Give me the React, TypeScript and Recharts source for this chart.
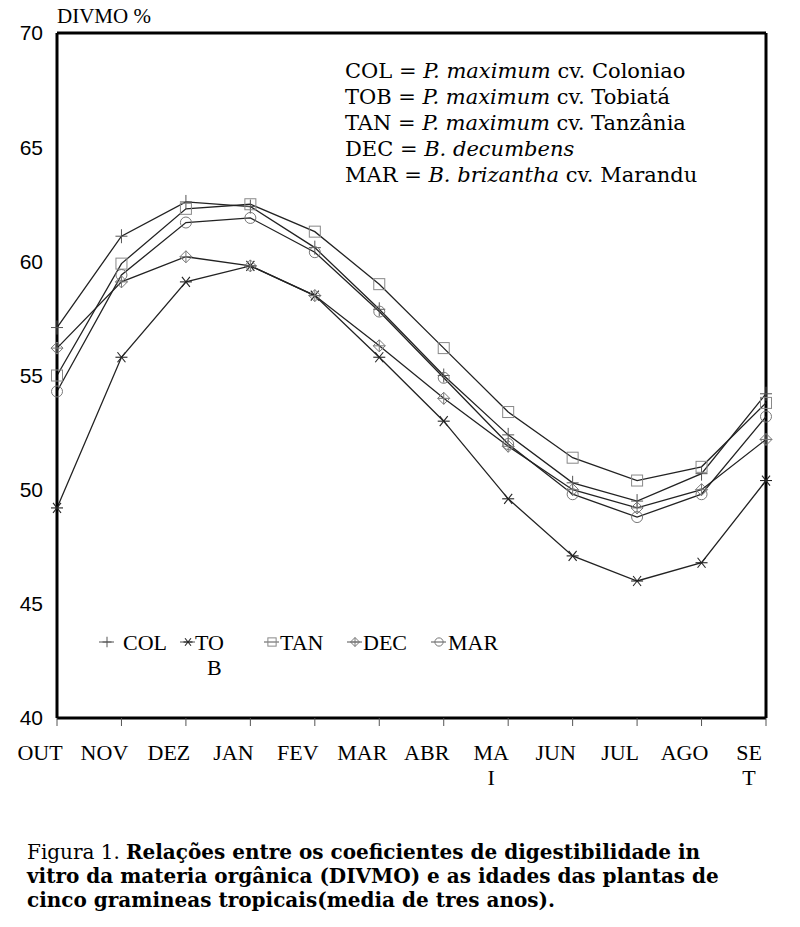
import React from 'react';
import { LineChart, Line, XAxis, YAxis, ReferenceLine } from 'recharts';

// months on the x axis (MAI and SET wrap in the original figure)
const months = ['OUT', 'NOV', 'DEZ', 'JAN', 'FEV', 'MAR', 'ABR', 'MAI', 'JUN', 'JUL', 'AGO', 'SET'];
const monthTickLines = [
  ['OUT'], ['NOV'], ['DEZ'], ['JAN'], ['FEV'], ['MAR'],
  ['ABR'], ['MA', 'I'], ['JUN'], ['JUL'], ['AGO'], ['SE', 'T'],
];
const yTicks = [40, 45, 50, 55, 60, 65, 70];

// DIVMO %
const colValues = [57.1, 61.1, 62.6, 62.4, 60.6, 57.9, 55.0, 52.4, 50.3, 49.5, 50.7, 54.2];
const tobValues = [49.2, 55.8, 59.1, 59.8, 58.5, 55.8, 53.0, 49.6, 47.1, 46.0, 46.8, 50.4];
const tanValues = [55.0, 59.9, 62.3, 62.5, 61.3, 59.0, 56.2, 53.4, 51.4, 50.4, 51.0, 53.8];
const decValues = [56.2, 59.1, 60.2, 59.8, 58.5, 56.3, 54.0, 51.9, 50.0, 49.2, 50.0, 52.2];
const marValues = [54.3, 59.4, 61.7, 61.9, 60.4, 57.8, 54.9, 52.0, 49.8, 48.8, 49.8, 53.2];

const seriesKeys = ['COL', 'TOB', 'TAN', 'DEC', 'MAR'];
const legendNames = [['COL'], ['TO', 'B'], ['TAN'], ['DEC'], ['MAR']];

const captionLines = [
  'Relações entre os coeficientes de digestibilidade in',
  'vitro da materia orgânica (DIVMO) e as idades das plantas de',
  'cinco gramineas tropicais(media de tres anos).',
];

const rows = months.map((m, i) => ({
  month: m,
  COL: colValues[i],
  TOB: tobValues[i],
  TAN: tanValues[i],
  DEC: decValues[i],
  MAR: marValues[i],
}));

const LINE_COLOR = '#222';

function Marker({ kind, cx, cy, s = 1 }: { kind: string; cx: number; cy: number; s?: number }) {
  if (cx == null || cy == null) return null;
  switch (kind) {
    case 'COL':
      return (
        <g stroke="#555" strokeWidth={1}>
          <line x1={cx - 6 * s} y1={cy} x2={cx + 6 * s} y2={cy} />
          <line x1={cx} y1={cy - 7 * s} x2={cx} y2={cy + 7 * s} />
        </g>
      );
    case 'TOB':
      return (
        <g stroke="#222" strokeWidth={1.1}>
          <line x1={cx - 6 * s} y1={cy} x2={cx + 6 * s} y2={cy} />
          <line x1={cx - 4 * s} y1={cy - 5 * s} x2={cx + 4 * s} y2={cy + 5 * s} />
          <line x1={cx + 4 * s} y1={cy - 5 * s} x2={cx - 4 * s} y2={cy + 5 * s} />
        </g>
      );
    case 'TAN':
      return (
        <rect x={cx - 5.5 * s} y={cy - 5.5 * s} width={11 * s} height={11 * s} fill="none" stroke="#888" strokeWidth={1} />
      );
    case 'DEC':
      return (
        <g stroke="#777" strokeWidth={1} fill="none">
          <path d={`M${cx},${cy - 6 * s} L${cx + 6 * s},${cy} L${cx},${cy + 6 * s} L${cx - 6 * s},${cy} Z`} />
          <line x1={cx - 6 * s} y1={cy} x2={cx + 6 * s} y2={cy} />
          <line x1={cx} y1={cy - 6 * s} x2={cx} y2={cy + 6 * s} />
        </g>
      );
    default:
      return (
        <g stroke="#777" strokeWidth={1} fill="none">
          <circle cx={cx} cy={cy} r={5.5 * s} />
        </g>
      );
  }
}

function MonthTick(props: any) {
  const { x, y, payload } = props;
  const idx = months.indexOf(payload.value);
  const lines = monthTickLines[idx] || [payload.value];
  return (
    <text x={x - 17} y={y} textAnchor="middle" fill="#000" fontFamily="Liberation Serif" fontSize={22}>
      {lines.map((t, i) => (
        <tspan key={t} x={x - 17} dy={i === 0 ? 32 : 25}>
          {t}
        </tspan>
      ))}
    </text>
  );
}

export default function App() {
  return (
    <div style={{ position: 'absolute', left: 0, top: 0, width: 800, height: 927, background: '#fff' }}>
      <LineChart width={800} height={800} data={rows} margin={{ top: 33, right: 34, bottom: 0, left: 0 }}>
        <XAxis
          dataKey="month"
          interval={0}
          tickSize={8}
          height={82}
          tickLine={{ stroke: '#555' }}
          axisLine={{ stroke: '#000', strokeWidth: 3 }}
          tick={<MonthTick />}
        />
        <YAxis
          domain={[40, 70]}
          ticks={yTicks}
          width={57}
          tickLine={false}
          tickSize={0}
          tickMargin={14}
          axisLine={{ stroke: '#000', strokeWidth: 3 }}
          tick={{ fill: '#000', fontSize: 21, fontFamily: 'Liberation Sans' }}
        />
        <ReferenceLine y={70} stroke="#000" strokeWidth={3} />
        <ReferenceLine x="SET" stroke="#000" strokeWidth={3} />
        {seriesKeys.map((k) => (
          <Line
            key={k}
            dataKey={k}
            stroke={LINE_COLOR}
            strokeWidth={1.3}
            isAnimationActive={false}
            dot={(p: any) => <Marker key={`${k}-${p.index}`} kind={k} cx={p.cx} cy={p.cy} />}
            activeDot={false}
          />
        ))}
      </LineChart>

      <div style={{ position: 'absolute', left: 57, top: 4, fontFamily: 'Liberation Serif', fontSize: 21 }}>
        DIVMO %
      </div>

      <div
        style={{
          position: 'absolute',
          left: 345,
          top: 58,
          fontFamily: 'DejaVu Serif',
          fontSize: 21,
          lineHeight: '26px',
          whiteSpace: 'nowrap',
        }}
      >
        <div>COL = <i>P. maximum</i> cv. Coloniao</div>
        <div>TOB = <i>P. maximum</i> cv. Tobiatá</div>
        <div>TAN = <i>P. maximum</i> cv. Tanzânia</div>
        <div>DEC = <i>B. decumbens</i></div>
        <div>MAR = <i>B. brizantha</i> cv. Marandu</div>
      </div>

      <svg style={{ position: 'absolute', left: 0, top: 0 }} width={800} height={700}>
        {[
          [107, 123],
          [188, 195],
          [272, 280],
          [355, 363],
          [439, 448],
        ].map(([mx, tx], i) => (
          <g key={seriesKeys[i]}>
            <line x1={mx - 8} y1={642} x2={mx + 7} y2={642} stroke="#555" strokeWidth={1} />
            <Marker kind={seriesKeys[i]} cx={mx} cy={642} s={0.75} />
            <text x={tx} y={650} fontFamily="Liberation Serif" fontSize={22} fill="#000">
              {legendNames[i].map((t, j) => (
                <tspan key={t} x={j === 0 ? tx : tx + 12} dy={j === 0 ? 0 : 25}>
                  {t}
                </tspan>
              ))}
            </text>
          </g>
        ))}
      </svg>

      <div
        style={{
          position: 'absolute',
          left: 27,
          top: 840,
          fontFamily: 'DejaVu Serif',
          fontSize: 20,
          lineHeight: '24px',
          fontWeight: 'bold',
          whiteSpace: 'nowrap',
        }}
      >
        {captionLines.map((line, i) => (
          <div key={i}>
            {i === 0 && <span style={{ fontWeight: 'normal', marginRight: 6 }}>Figura 1.</span>}
            {line}
          </div>
        ))}
      </div>
    </div>
  );
}
